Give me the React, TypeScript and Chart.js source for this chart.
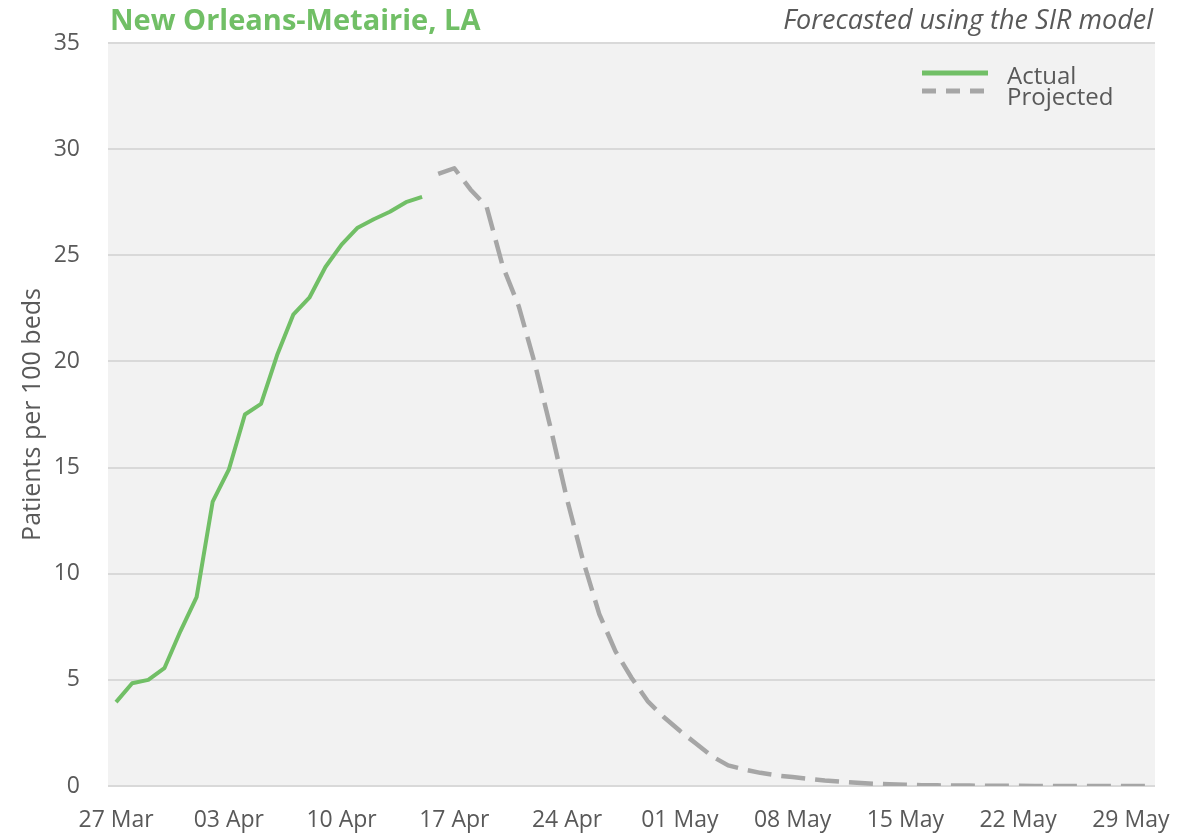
import React, { useEffect, useRef } from 'react';
import { Chart, registerables } from 'chart.js';

Chart.register(...registerables);

// ---- Text ----
const titleText = 'New Orleans-Metairie, LA';
const subtitleText = 'Forecasted using the SIR model';
const yAxisTitle = 'Patients per 100 beds';
const seriesNames = ['Actual', 'Projected'];

// ---- X axis (days since 27 Mar) ----
const tickLabels = ['27 Mar', '03 Apr', '10 Apr', '17 Apr', '24 Apr', '01 May', '08 May', '15 May', '22 May', '29 May'];
const tickDays = [0, 7, 14, 21, 28, 35, 42, 49, 56, 63];
const xMinDay = -0.5;
const xMaxDay = 64.5;

// ---- Y axis ----
const yMin = 0;
const yMax = 35;
const yStep = 5;

// ---- Series ----
const actualStartDay = 0;
const actualValues = [
  3.95, 4.84, 5.0, 5.55, 7.3, 8.9, 13.4, 14.9, 17.5, 18.0,
  20.3, 22.2, 23.0, 24.45, 25.5, 26.3, 26.7, 27.05, 27.5, 27.75,
];

const projectedStartDay = 20;
const projectedValues = [
  28.83, 29.1, 28.1, 27.3, 24.5, 22.6, 19.9, 16.8, 13.5, 10.6,
  8.1, 6.35, 5.1, 4.0, 3.25, 2.6, 2.0, 1.4, 0.97, 0.78,
  0.62, 0.5, 0.42, 0.34, 0.26, 0.2, 0.15, 0.11, 0.08, 0.06,
  0.04, 0.03, 0.02, 0.02, 0.01, 0.01, 0.01, 0.0, 0.0, 0.0,
  0.0, 0.0, 0.0, 0.0, 0.0,
];

// ---- Styles ----
const GREEN = '#71bf66';
const GRAY = '#a6a6a6';
const TEXT = '#595959';
const PLOT_BG = '#f2f2f2';
const GRID = '#d9d9d9';
const FONT = "'Open Sans', sans-serif";

const toPoints = (start: number, values: number[]) =>
  values.map((v, i) => ({ x: start + i, y: v }));

const decorPlugin = {
  id: 'decor',
  beforeDraw(chart: any) {
    const { ctx, chartArea: a } = chart;
    ctx.save();
    ctx.fillStyle = PLOT_BG;
    ctx.fillRect(a.left, a.top, a.right - a.left, a.bottom - a.top);
    ctx.restore();
  },
  afterDraw(chart: any) {
    const { ctx, chartArea: a } = chart;
    ctx.save();
    // Title
    ctx.fillStyle = GREEN;
    ctx.font = `bold 29px ${FONT}`;
    ctx.textAlign = 'left';
    ctx.textBaseline = 'alphabetic';
    ctx.fillText(titleText, a.left + 2, 30);
    // Subtitle
    ctx.fillStyle = TEXT;
    ctx.font = `italic 27px ${FONT}`;
    ctx.textAlign = 'right';
    ctx.fillText(subtitleText, a.right - 2, 29);

    // Legend
    const lx0 = 922;
    const lx1 = 988;
    ctx.lineCap = 'butt';
    ctx.lineWidth = 5;
    ctx.strokeStyle = GREEN;
    ctx.setLineDash([]);
    ctx.beginPath();
    ctx.moveTo(lx0, 73);
    ctx.lineTo(lx1, 73);
    ctx.stroke();
    ctx.strokeStyle = GRAY;
    ctx.setLineDash([14, 10]);
    ctx.beginPath();
    ctx.moveTo(lx0, 91);
    ctx.lineTo(lx1, 91);
    ctx.stroke();
    ctx.setLineDash([]);
    ctx.fillStyle = TEXT;
    ctx.font = `24px ${FONT}`;
    ctx.textAlign = 'left';
    ctx.fillText(seriesNames[0], 1007, 84);
    ctx.fillText(seriesNames[1], 1007, 105);
    ctx.restore();
  },
};

export default function App() {
  const canvasRef = useRef<HTMLCanvasElement | null>(null);

  useEffect(() => {
    if (!canvasRef.current) return;
    const chart = new Chart(canvasRef.current, {
      type: 'line',
      data: {
        datasets: [
          {
            label: seriesNames[0],
            data: toPoints(actualStartDay, actualValues),
            borderColor: GREEN,
            backgroundColor: GREEN,
            borderWidth: 4,
            pointRadius: 0,
            tension: 0,
            borderCapStyle: 'butt',
            borderJoinStyle: 'round',
          },
          {
            label: seriesNames[1],
            data: toPoints(projectedStartDay, projectedValues),
            borderColor: GRAY,
            backgroundColor: GRAY,
            borderWidth: 4.5,
            borderDash: [24, 10],
            pointRadius: 0,
            tension: 0,
            borderCapStyle: 'butt',
            borderJoinStyle: 'round',
          },
        ],
      },
      options: {
        animation: false,
        responsive: true,
        maintainAspectRatio: false,
        layout: { padding: { top: 43, right: 37, bottom: 0, left: 0 } },
        plugins: {
          legend: { display: false },
          tooltip: { enabled: false },
          title: { display: false },
        },
        scales: {
          x: {
            type: 'linear',
            min: xMinDay,
            max: xMaxDay,
            grid: { display: false, drawTicks: false },
            border: { display: false },
            afterBuildTicks: (scale: any) => {
              scale.ticks = tickDays.map((d) => ({ value: d }));
            },
            afterFit: (scale: any) => {
              scale.height = 49;
            },
            ticks: {
              autoSkip: false,
              maxRotation: 0,
              padding: 21,
              color: TEXT,
              font: { family: FONT, size: 23 },
              callback: (value: any) => {
                const i = tickDays.indexOf(Number(value));
                return i >= 0 ? tickLabels[i] : '';
              },
            },
          },
          y: {
            min: yMin,
            max: yMax,
            grid: { color: GRID, lineWidth: 2, drawTicks: false },
            border: { display: false },
            afterFit: (scale: any) => {
              scale.width = 108;
            },
            ticks: {
              stepSize: yStep,
              padding: 28,
              color: TEXT,
              font: { family: FONT, size: 23 },
            },
            title: {
              display: true,
              text: yAxisTitle,
              color: TEXT,
              font: { family: FONT, size: 25 },
              padding: { top: 18, bottom: 0 },
            },
          },
        },
      },
      plugins: [decorPlugin],
    });
    return () => chart.destroy();
  }, []);

  return (
    <div style={{ position: 'absolute', left: 0, top: 0, width: 1192, height: 835, background: '#fff' }}>
      <canvas ref={canvasRef} />
    </div>
  );
}
